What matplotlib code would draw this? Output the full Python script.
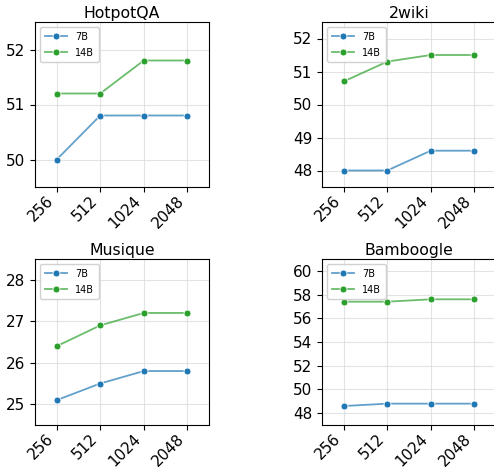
import matplotlib.pyplot as plt
from matplotlib.colors import to_rgba

# Данни
budgets = ['256', '512', '1024', '2048']
datasets = ['HotpotQA', '2wiki', 'Musique', 'Bamboogle']

hotpot_7b = [50.0, 50.8, 50.8, 50.8]
hotpot_14b = [51.2, 51.2, 51.8, 51.8]
wiki_7b = [48.0, 48.0, 48.6, 48.6]
wiki_14b = [50.7, 51.3, 51.5, 51.5]
musique_7b = [25.1, 25.5, 25.8, 25.8]
musique_14b = [26.4, 26.9, 27.2, 27.2]
bamboogle_7b = [48.6, 48.8, 48.8, 48.8]
bamboogle_14b = [57.4, 57.4, 57.6, 57.6]

series = [(hotpot_7b, hotpot_14b), (wiki_7b, wiki_14b),
          (musique_7b, musique_14b), (bamboogle_7b, bamboogle_14b)]
ylims = [(49.5, 52.5), (47.5, 52.5), (24.5, 28.5), (47, 61)]
yticks = [[50, 51, 52], [48, 49, 50, 51, 52], [25, 26, 27, 28],
          [48, 50, 52, 54, 56, 58, 60]]

W, H = 494, 468
# позиции на осите в пиксели (ляво, горе, дясно, долу)
boxes = [(35, 22, 209, 187), (322, 22, 496, 187),
         (35, 259, 209, 425), (322, 259, 496, 425)]

fig = plt.figure(figsize=(W / 100, H / 100), dpi=100)

blue = '#1f77b4'
green = '#2ca02c'

for i, name in enumerate(datasets):
    l, t, r, b = boxes[i]
    ax = fig.add_axes([l / W, 1 - b / H, (r - l) / W, (b - t) / H])
    x = list(range(len(budgets)))
    s7, s14 = series[i]
    for vals, col, lab in [(s7, blue, '7B'), (s14, green, '14B')]:
        ax.plot(x, vals, color=to_rgba(col, 0.7), linewidth=1.3,
                marker='o', markersize=5, markerfacecolor=col,
                markeredgecolor='white', markeredgewidth=0.6, label=lab)
    ax.set_xlim(-0.5, 3.5)
    ax.set_ylim(*ylims[i])
    ax.set_yticks(yticks[i])
    ax.set_xticks(x)
    ax.set_xticklabels(budgets, rotation=45, ha='right')
    ax.tick_params(axis='both', labelsize=11)
    ax.tick_params(axis='x', pad=0.8)
    ax.grid(True, color='#d8d8d8', linewidth=0.8, alpha=0.7)
    ax.set_axisbelow(True)
    ax.set_title(name, fontsize=11.3, pad=3)
    ax.legend(loc='upper left', fontsize=7, handlelength=2.3,
              borderpad=0.5, labelspacing=0.6, framealpha=0.9)

plt.savefig('out.png', dpi=100)
plt.close()
